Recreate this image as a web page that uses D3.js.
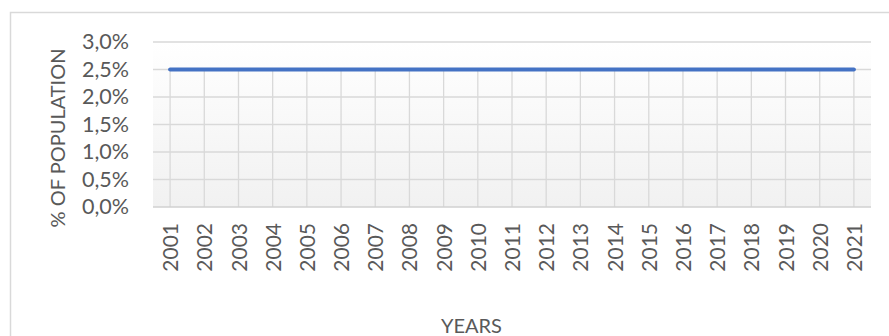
<!DOCTYPE html>
<html>
<head>
<meta charset="utf-8">
<script src="https://cdn.jsdelivr.net/npm/d3@7"></script>
<style>
  html, body { margin: 0; padding: 0; background: #fff; }
  svg { display: block; }
  text { font-family: Lato, "Open Sans", sans-serif; fill: #595959; }
</style>
</head>
<body>
<svg id="chart" width="889" height="336"></svg>
<script>
// Share of population per year
const years = ["2001","2002","2003","2004","2005","2006","2007","2008","2009","2010",
  "2011","2012","2013","2014","2015","2016","2017","2018","2019","2020","2021"];
const shareValues = [0.025,0.025,0.025,0.025,0.025,0.025,0.025,0.025,0.025,0.025,
  0.025,0.025,0.025,0.025,0.025,0.025,0.025,0.025,0.025,0.025,0.025];
const yTicks = [0, 0.005, 0.01, 0.015, 0.02, 0.025, 0.03];
const yTickLabels = ["0,0%","0,5%","1,0%","1,5%","2,0%","2,5%","3,0%"];

const svg = d3.select("#chart");
const plot = { left: 153, right: 871, top: 42, bottom: 207 };
const font = "Lato, 'Open Sans', sans-serif";

// Outer chart frame
svg.append("rect")
  .attr("x", 10.5).attr("y", 12.5)
  .attr("width", 900).attr("height", 400)
  .attr("fill", "#fff").attr("stroke", "#d9d9d9").attr("stroke-width", 1.5);

// Plot area gradient background
const defs = svg.append("defs");
const grad = defs.append("linearGradient").attr("id", "plotBg")
  .attr("x1", 0).attr("y1", 0).attr("x2", 0).attr("y2", 1);
grad.append("stop").attr("offset", "0%").attr("stop-color", "#ffffff");
grad.append("stop").attr("offset", "100%").attr("stop-color", "#f1f1f1");

svg.append("rect")
  .attr("x", plot.left).attr("y", plot.top)
  .attr("width", plot.right - plot.left).attr("height", plot.bottom - plot.top)
  .attr("fill", "url(#plotBg)");

const x = d3.scalePoint().domain(years)
  .range([plot.left, plot.right]).padding(0.5);
const y = d3.scaleLinear().domain([0, 0.03]).range([plot.bottom, plot.top]);

// Horizontal gridlines
svg.append("g")
  .selectAll("line").data(yTicks.filter(d => d > 0)).join("line")
  .attr("x1", plot.left).attr("x2", plot.right)
  .attr("y1", d => y(d)).attr("y2", d => y(d))
  .attr("stroke", "#d9d9d9").attr("stroke-width", 1.3);

// Vertical gridlines at each year, from the series down to the axis
svg.append("g")
  .selectAll("line").data(years).join("line")
  .attr("x1", d => x(d)).attr("x2", d => x(d))
  .attr("y1", (d, i) => y(shareValues[i])).attr("y2", plot.bottom)
  .attr("stroke", "#d9d9d9").attr("stroke-width", 1.3);

// Category axis line
svg.append("line")
  .attr("x1", plot.left).attr("x2", plot.right)
  .attr("y1", plot.bottom).attr("y2", plot.bottom)
  .attr("stroke", "#d0d0d0").attr("stroke-width", 1.5);

// Y axis
const yAxis = d3.axisLeft(y).tickValues(yTicks)
  .tickFormat((d, i) => yTickLabels[i]).tickSize(0).tickPadding(0);
const gy = svg.append("g").attr("transform", `translate(129,0)`).call(yAxis);
gy.select(".domain").remove();
gy.selectAll("text").attr("font-size", 21.5).attr("fill", "#595959")
  .attr("font-family", font);

// X axis with rotated year labels
const xAxis = d3.axisBottom(x).tickSize(0).tickPadding(0);
const gx = svg.append("g").attr("transform", `translate(0,${plot.bottom})`).call(xAxis);
gx.select(".domain").remove();
gx.selectAll("text")
  .attr("font-size", 21).attr("fill", "#595959")
  .attr("font-family", font)
  .attr("transform", "rotate(-90)")
  .attr("text-anchor", "end")
  .attr("x", -16).attr("y", 0).attr("dy", "0.36em");

// Series line
svg.append("path")
  .datum(shareValues)
  .attr("fill", "none").attr("stroke", "#4472c4").attr("stroke-width", 4)
  .attr("stroke-linecap", "round")
  .attr("d", d3.line().x((d, i) => x(years[i])).y(d => y(d)));

// Axis titles
svg.append("text")
  .attr("transform", "translate(65,138) rotate(-90)")
  .attr("text-anchor", "middle").attr("font-size", 20).attr("font-family", font)
  .text("% OF POPULATION");

svg.append("text")
  .attr("x", 471.5).attr("y", 333)
  .attr("text-anchor", "middle").attr("font-size", 20).attr("font-family", font)
  .text("YEARS");
</script>
</body>
</html>
